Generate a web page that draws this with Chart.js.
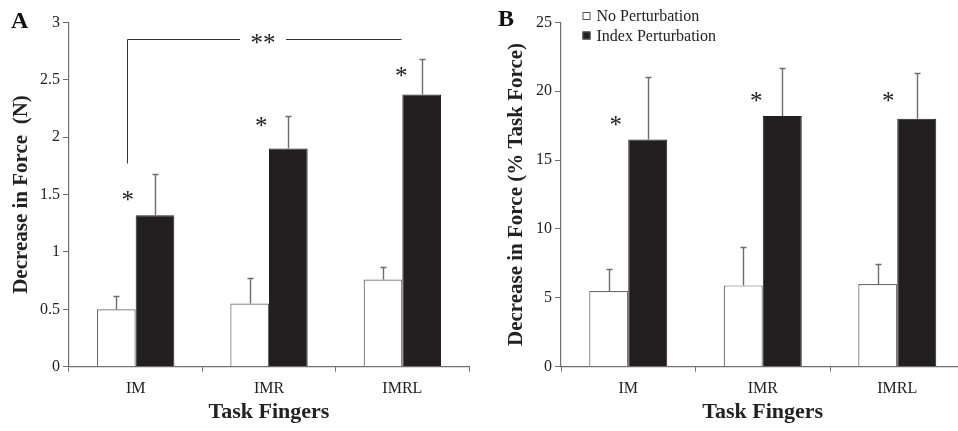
<!DOCTYPE html>
<html>
<head>
<meta charset="utf-8">
<title>Decrease in Force by Task Fingers</title>
<script src="https://cdn.jsdelivr.net/npm/chart.js"></script>
<style>
  html, body { margin: 0; padding: 0; background: #fff; overflow: hidden; }
  #wrap { position: relative; width: 958px; height: 431px; overflow: hidden; }
  #chartA { position: absolute; left: 0; top: 0; }
  #chartB { position: absolute; left: 480px; top: 0; }
</style>
</head>
<body>
<div id="wrap">
  <canvas id="chartA" width="480" height="431"></canvas>
  <canvas id="chartB" width="490" height="431"></canvas>
</div>
<script>
// categories and series
const fingers = ['IM', 'IMR', 'IMRL'];
const seriesNames = ['No Perturbation', 'Index Perturbation'];

// panel A: decrease in force (N), mean and upper error
const forceNoPert = [0.50, 0.55, 0.76];
const forceNoPertErr = [0.12, 0.22, 0.11];
const forceIndexPert = [1.32, 1.90, 2.37];
const forceIndexPertErr = [0.36, 0.28, 0.31];

// panel B: decrease in force (% task force)
const pctNoPert = [5.5, 5.9, 6.0];
const pctNoPertErr = [1.6, 2.8, 1.45];
const pctIndexPert = [16.5, 18.2, 18.0];
const pctIndexPertErr = [4.5, 3.5, 3.3];

// tick labels
const ticksA = ['0', '0.5', '1', '1.5', '2', '2.5', '3'];
const ticksB = ['0', '5', '10', '15', '20', '25'];

// significance stars (value where the * sits, per finger)
const starsA = [1.48, 2.125, 2.56];
const starsB = [17.8, 19.55, 19.55];

const SERIF = '"Liberation Serif", "Times New Roman", serif';
const AXIS_GRAY = '#6f6f6f';
const BAR_BLACK = '#231f20';

const extras = {
  id: 'extras',
  afterDatasetsDraw(chart, args, o) {
    const ctx = chart.ctx, xs = chart.scales.x, ys = chart.scales.y;
    ctx.save();
    // error bars (upper only)
    ctx.strokeStyle = '#6d6d6d';
    ctx.lineWidth = 1.4;
    o.errors.forEach((errs, di) => {
      const meta = chart.getDatasetMeta(di);
      meta.data.forEach((bar, i) => {
        const v = chart.data.datasets[di].data[i];
        const yTop = Math.round(ys.getPixelForValue(v + errs[i])) + 0.5;
        const bx = Math.round(bar.x) + 0.5;
        ctx.beginPath();
        ctx.moveTo(bx, bar.y);
        ctx.lineTo(bx, yTop);
        ctx.moveTo(bx - 3, yTop);
        ctx.lineTo(bx + 3, yTop);
        ctx.stroke();
      });
    });
    // stars
    ctx.fillStyle = '#222';
    ctx.font = '25px ' + SERIF;
    ctx.textAlign = 'center';
    ctx.textBaseline = 'middle';
    o.stars.forEach((v, i) => {
      ctx.fillText('*', xs.getPixelForValue(i + o.starDx[i]), ys.getPixelForValue(v) + 5);
    });
    // bracket
    if (o.bracket) {
      const b = o.bracket;
      const x0 = Math.round(xs.getPixelForValue(b.from)) + 0.5;
      const x1 = Math.round(xs.getPixelForValue(b.to)) + 0.5;
      const g0 = xs.getPixelForValue(b.gapFrom), g1 = xs.getPixelForValue(b.gapTo);
      const yb = ys.getPixelForValue(b.low), yt = Math.round(ys.getPixelForValue(b.high)) + 0.5;
      ctx.strokeStyle = '#333';
      ctx.lineWidth = 1;
      ctx.beginPath();
      ctx.moveTo(x0, yb); ctx.lineTo(x0, yt); ctx.lineTo(g0, yt);
      ctx.moveTo(g1, yt); ctx.lineTo(x1, yt);
      ctx.stroke();
      ctx.fillText('**', (g0 + g1) / 2, yt + 5);
    }
    ctx.restore();
  },
  afterDraw(chart, args, o) {
    const ctx = chart.ctx;
    ctx.save();
    ctx.fillStyle = '#111';
    ctx.font = 'bold 24px ' + SERIF;
    ctx.textAlign = 'left';
    ctx.textBaseline = 'middle';
    ctx.fillText(o.letter, o.letterX, o.letterY);
    if (o.legend) {
      ctx.font = '16px ' + SERIF;
      chart.data.datasets.forEach((ds, i) => {
        const ly = o.legendY + i * 19.5;
        ctx.fillStyle = ds.backgroundColor;
        ctx.strokeStyle = '#555';
        ctx.lineWidth = 1;
        ctx.fillRect(o.legendX, ly - 4, 8, 8);
        ctx.strokeRect(o.legendX + 0.5, ly - 3.5, 7, 7);
        ctx.fillStyle = '#222';
        ctx.fillText(ds.label, o.legendX + 14, ly + 1);
      });
    }
    ctx.restore();
  }
};

function makeChart(id, cfg) {
  const tickVals = cfg.ticks.map(Number);
  return new Chart(document.getElementById(id), {
    type: 'bar',
    data: {
      labels: fingers,
      datasets: [
        { label: seriesNames[0], data: cfg.white, backgroundColor: '#ffffff', borderColor: '#6a6a6a', borderWidth: 1.2 },
        { label: seriesNames[1], data: cfg.black, backgroundColor: BAR_BLACK, borderColor: BAR_BLACK, borderWidth: 1 }
      ]
    },
    options: {
      responsive: false,
      animation: false,
      categoryPercentage: 0.58,
      barPercentage: 1.0,
      layout: { padding: { top: 22.3, right: cfg.padRight, bottom: 0, left: 0 } },
      plugins: {
        legend: { display: false },
        tooltip: { enabled: false },
        extras: cfg.extras
      },
      scales: {
        x: {
          grid: { offset: true, drawOnChartArea: false, drawTicks: true, tickLength: 5, color: AXIS_GRAY },
          border: { color: AXIS_GRAY, width: 1.2 },
          ticks: { font: { family: SERIF, size: 16 }, color: '#222', padding: 7 },
          title: { display: true, text: 'Task Fingers', font: { family: SERIF, size: 22, weight: 'bold' }, color: '#222', padding: { top: 0, bottom: 5 } },
          afterFit: s => { s.height = 64.3; }
        },
        y: {
          min: 0,
          max: tickVals[tickVals.length - 1],
          afterBuildTicks: s => { s.ticks = tickVals.map(v => ({ value: v })); },
          grid: { drawOnChartArea: false, drawTicks: true, tickLength: 6, color: AXIS_GRAY },
          border: { color: AXIS_GRAY, width: 1.2 },
          ticks: { font: { family: SERIF, size: 16 }, color: '#222', padding: 3, callback: (v, i) => cfg.ticks[i] },
          title: { display: true, text: cfg.yTitle, font: { family: SERIF, size: 21, weight: 'bold' }, color: '#222', padding: { top: cfg.yTitlePad, bottom: 0 } },
          afterFit: s => { s.width = cfg.yWidth; }
        }
      }
    },
    plugins: [extras]
  });
}

makeChart('chartA', {
  white: forceNoPert,
  black: forceIndexPert,
  ticks: ticksA,
  yTitle: 'Decrease in Force  (N)',
  yTitlePad: 9.4,
  yWidth: 69,
  padRight: 11,
  extras: {
    errors: [forceNoPertErr, forceIndexPertErr],
    stars: starsA,
    starDx: [-0.06, -0.058, -0.008],
    bracket: { from: -0.065, to: 1.99, gapFrom: 0.783, gapTo: 1.128, low: 1.77, high: 2.857 },
    letter: 'A', letterX: 11, letterY: 22
  }
});

makeChart('chartB', {
  white: pctNoPert,
  black: pctIndexPert,
  ticks: ticksB,
  yTitle: 'Decrease in Force (% Task Force)',
  yTitlePad: 24.1,
  yWidth: 81,
  padRight: 5.5,
  extras: {
    errors: [pctNoPertErr, pctIndexPertErr],
    stars: starsB,
    starDx: [-0.093, -0.048, -0.067],
    bracket: null,
    letter: 'B', letterX: 18, letterY: 20,
    legend: true, legendX: 102.5, legendY: 16
  }
});
</script>
</body>
</html>
